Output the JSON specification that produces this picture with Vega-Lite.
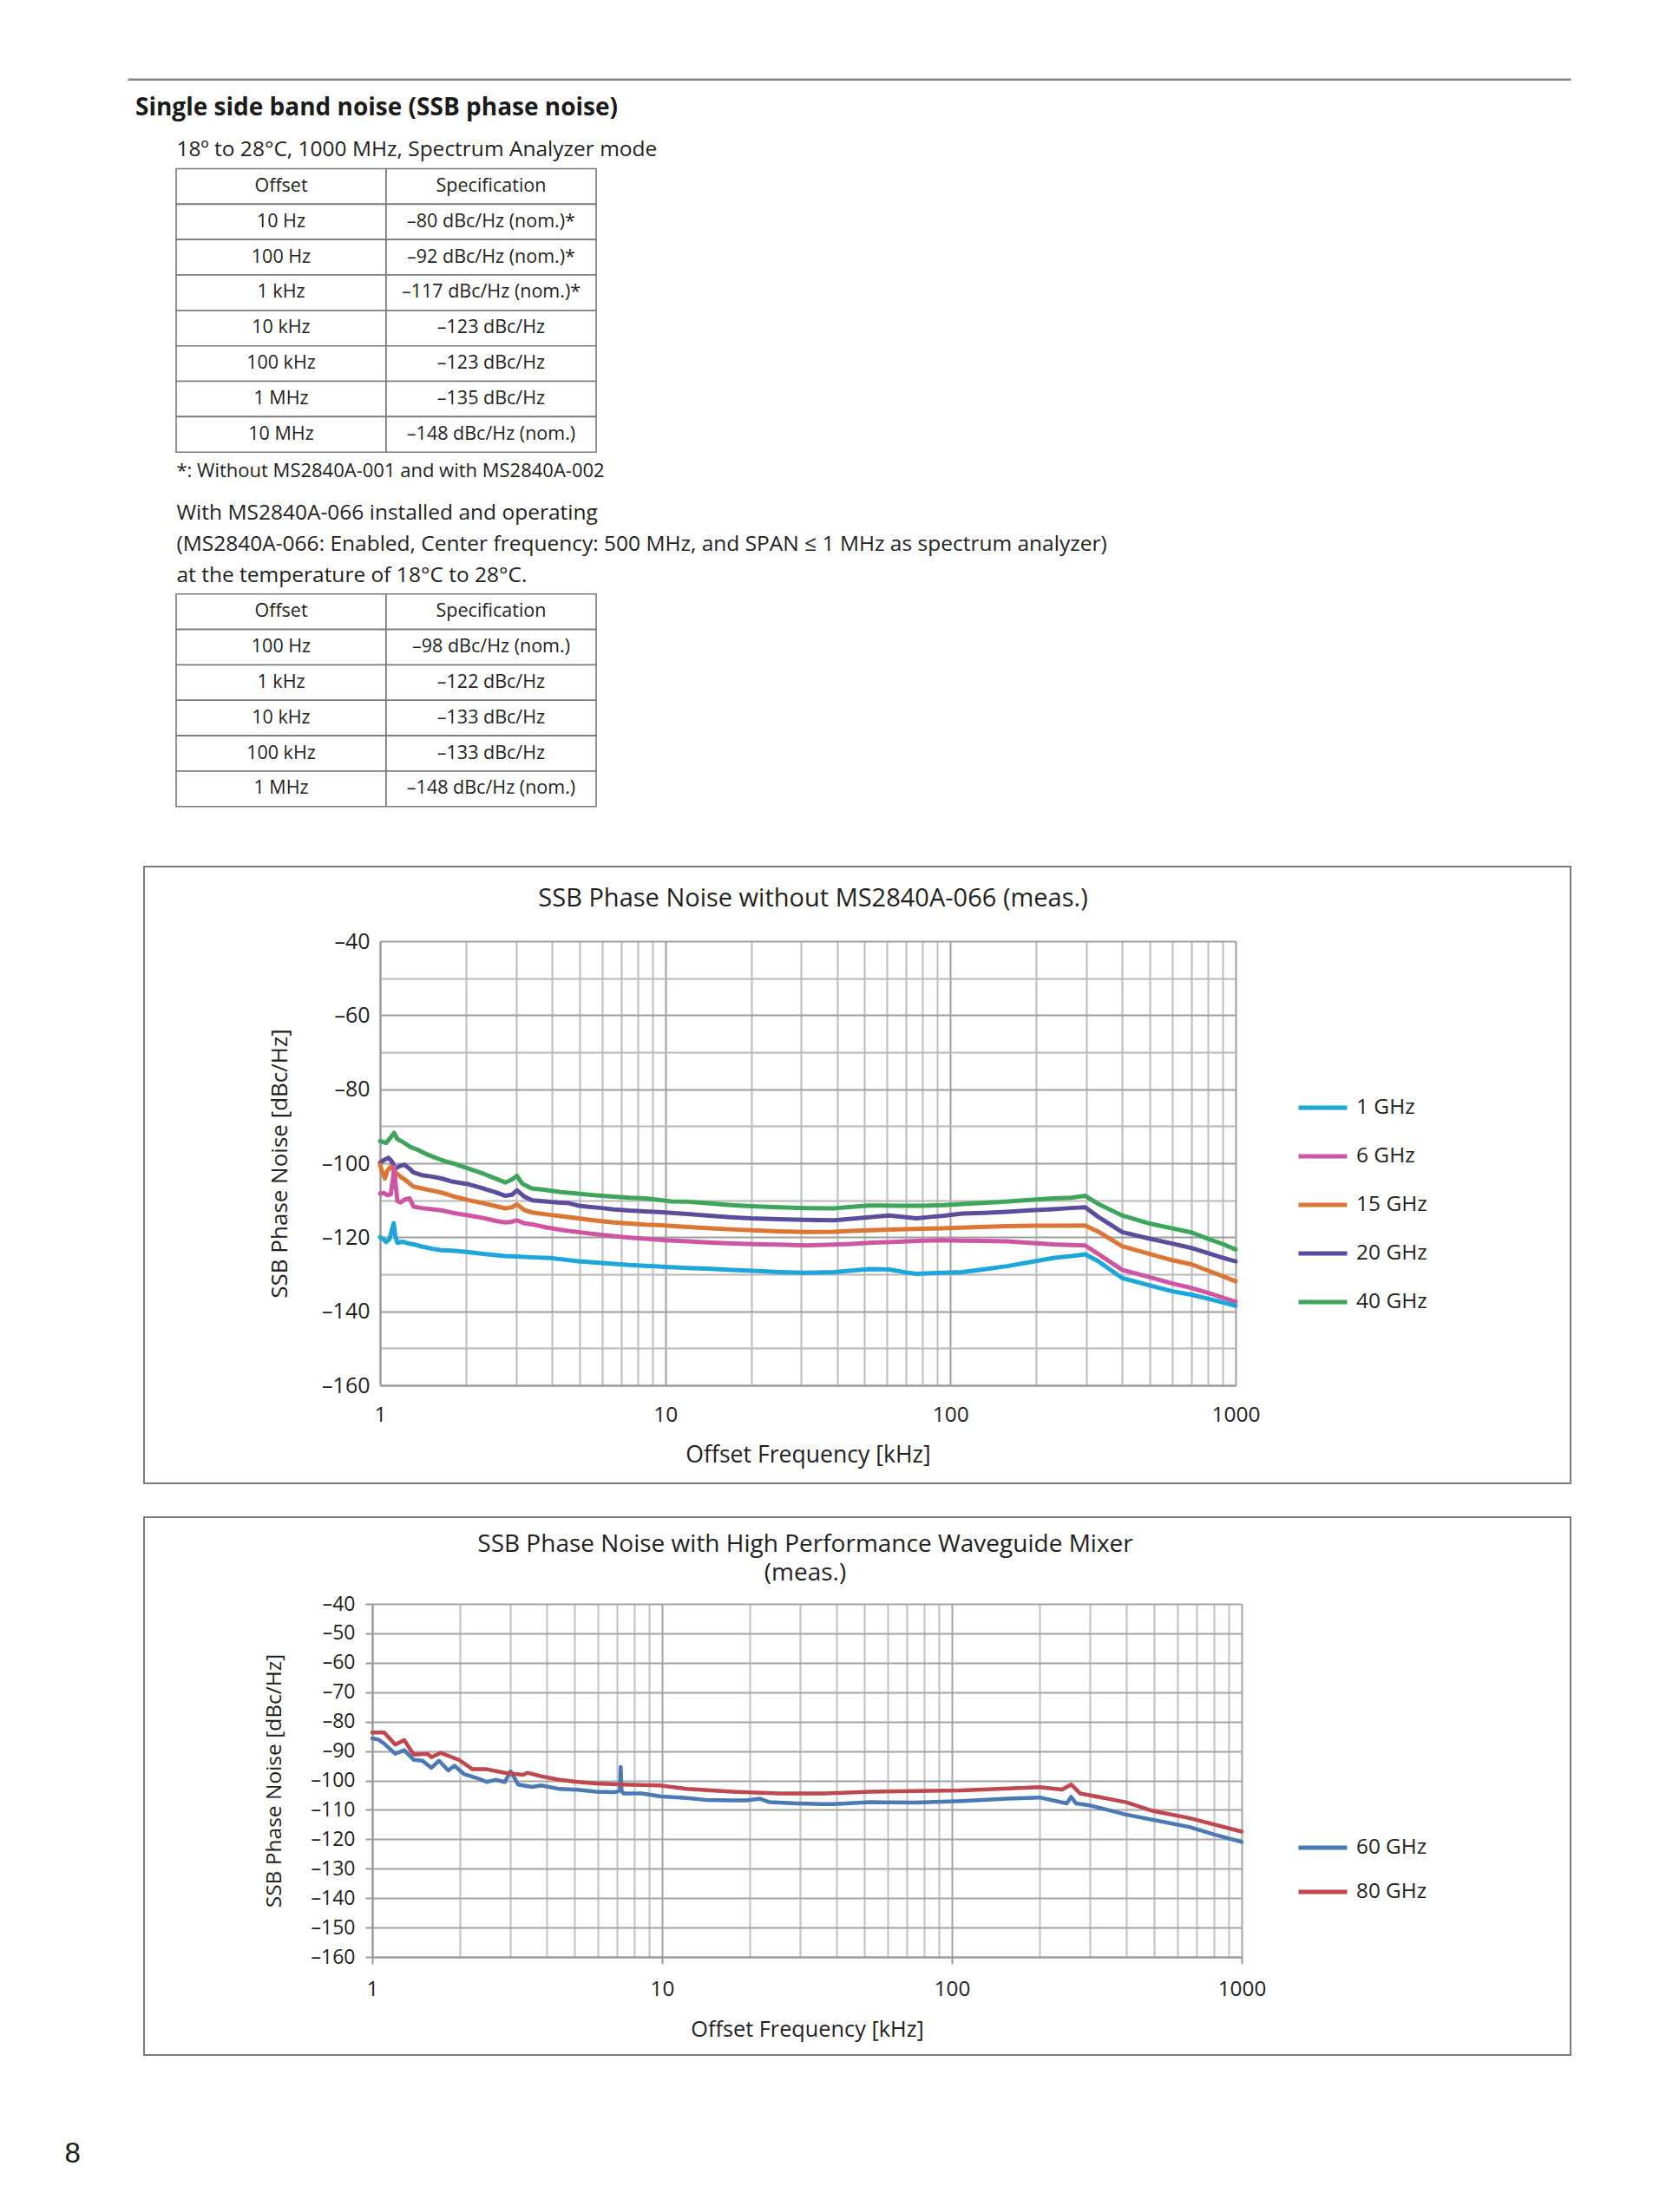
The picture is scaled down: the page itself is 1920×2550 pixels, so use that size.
{
  "$schema": "https://vega.github.io/schema/vega-lite/v6.json",
  "background": "white",
  "padding": {"left": 73, "top": 88, "right": 20, "bottom": 20},
  "autosize": {"type": "pad"},
  "config": {
    "font": "Open Sans",
    "view": {"stroke": null},
    "axis": {"labelFont": "Open Sans", "titleFont": "Open Sans", "labelColor": "#231f20", "titleColor": "#231f20", "titleFontWeight": "normal", "labelFlush": false, "labelOverlap": false},
    "legend": {"labelFont": "Open Sans", "labelColor": "#231f20"},
    "title": {"font": "Open Sans", "color": "#231f20", "fontWeight": "normal"}
  },
  "datasets": {
    "table1": [
      {"row": 0, "col": "Offset", "text": "Offset"}, {"row": 0, "col": "Specification", "text": "Specification"},
      {"row": 1, "col": "Offset", "text": "10 Hz"}, {"row": 1, "col": "Specification", "text": "–80 dBc/Hz (nom.)*"},
      {"row": 2, "col": "Offset", "text": "100 Hz"}, {"row": 2, "col": "Specification", "text": "–92 dBc/Hz (nom.)*"},
      {"row": 3, "col": "Offset", "text": "1 kHz"}, {"row": 3, "col": "Specification", "text": "–117 dBc/Hz (nom.)*"},
      {"row": 4, "col": "Offset", "text": "10 kHz"}, {"row": 4, "col": "Specification", "text": "–123 dBc/Hz"},
      {"row": 5, "col": "Offset", "text": "100 kHz"}, {"row": 5, "col": "Specification", "text": "–123 dBc/Hz"},
      {"row": 6, "col": "Offset", "text": "1 MHz"}, {"row": 6, "col": "Specification", "text": "–135 dBc/Hz"},
      {"row": 7, "col": "Offset", "text": "10 MHz"}, {"row": 7, "col": "Specification", "text": "–148 dBc/Hz (nom.)"}
    ],
    "table2": [
      {"row": 0, "col": "Offset", "text": "Offset"}, {"row": 0, "col": "Specification", "text": "Specification"},
      {"row": 1, "col": "Offset", "text": "100 Hz"}, {"row": 1, "col": "Specification", "text": "–98 dBc/Hz (nom.)"},
      {"row": 2, "col": "Offset", "text": "1 kHz"}, {"row": 2, "col": "Specification", "text": "–122 dBc/Hz"},
      {"row": 3, "col": "Offset", "text": "10 kHz"}, {"row": 3, "col": "Specification", "text": "–133 dBc/Hz"},
      {"row": 4, "col": "Offset", "text": "100 kHz"}, {"row": 4, "col": "Specification", "text": "–133 dBc/Hz"},
      {"row": 5, "col": "Offset", "text": "1 MHz"}, {"row": 5, "col": "Specification", "text": "–148 dBc/Hz (nom.)"}
    ],
    "noise1": [
      {"s": "40 GHz", "f": 1, "n": -94}, {"s": "40 GHz", "f": 1.05, "n": -94.5}, {"s": "40 GHz", "f": 1.09, "n": -93}, {"s": "40 GHz", "f": 1.12, "n": -91.8}, {"s": "40 GHz", "f": 1.15, "n": -93.5}, {"s": "40 GHz", "f": 1.2, "n": -94.2}, {"s": "40 GHz", "f": 1.27, "n": -95.5}, {"s": "40 GHz", "f": 1.35, "n": -96.3}, {"s": "40 GHz", "f": 1.45, "n": -97.5}, {"s": "40 GHz", "f": 1.55, "n": -98.4}, {"s": "40 GHz", "f": 1.7, "n": -99.5}, {"s": "40 GHz", "f": 1.85, "n": -100.3}, {"s": "40 GHz", "f": 2.05, "n": -101.5}, {"s": "40 GHz", "f": 2.3, "n": -102.8}, {"s": "40 GHz", "f": 2.55, "n": -104.2}, {"s": "40 GHz", "f": 2.75, "n": -105.2}, {"s": "40 GHz", "f": 2.9, "n": -104.4}, {"s": "40 GHz", "f": 3.02, "n": -103.4}, {"s": "40 GHz", "f": 3.15, "n": -105.5}, {"s": "40 GHz", "f": 3.4, "n": -106.8}, {"s": "40 GHz", "f": 3.8, "n": -107.2}, {"s": "40 GHz", "f": 4.3, "n": -107.8}, {"s": "40 GHz", "f": 4.95, "n": -108.2}, {"s": "40 GHz", "f": 5.6, "n": -108.6}, {"s": "40 GHz", "f": 6.6, "n": -109}, {"s": "40 GHz", "f": 7.5, "n": -109.3}, {"s": "40 GHz", "f": 8.5, "n": -109.5}, {"s": "40 GHz", "f": 9.5, "n": -109.9}, {"s": "40 GHz", "f": 10.5, "n": -110.3}, {"s": "40 GHz", "f": 12, "n": -110.4}, {"s": "40 GHz", "f": 14, "n": -110.8}, {"s": "40 GHz", "f": 17, "n": -111.3}, {"s": "40 GHz", "f": 20, "n": -111.6}, {"s": "40 GHz", "f": 25, "n": -111.9}, {"s": "40 GHz", "f": 31, "n": -112.1}, {"s": "40 GHz", "f": 39, "n": -112.2}, {"s": "40 GHz", "f": 45, "n": -111.8}, {"s": "40 GHz", "f": 52, "n": -111.4}, {"s": "40 GHz", "f": 65, "n": -111.5}, {"s": "40 GHz", "f": 80, "n": -111.5}, {"s": "40 GHz", "f": 95, "n": -111.3}, {"s": "40 GHz", "f": 110, "n": -111}, {"s": "40 GHz", "f": 130, "n": -110.7}, {"s": "40 GHz", "f": 160, "n": -110.3}, {"s": "40 GHz", "f": 190, "n": -109.9}, {"s": "40 GHz", "f": 230, "n": -109.5}, {"s": "40 GHz", "f": 265, "n": -109.3}, {"s": "40 GHz", "f": 297, "n": -108.8}, {"s": "40 GHz", "f": 330, "n": -111}, {"s": "40 GHz", "f": 400, "n": -114.1}, {"s": "40 GHz", "f": 500, "n": -116.3}, {"s": "40 GHz", "f": 600, "n": -117.6}, {"s": "40 GHz", "f": 700, "n": -118.7}, {"s": "40 GHz", "f": 800, "n": -120.4}, {"s": "40 GHz", "f": 900, "n": -121.8}, {"s": "40 GHz", "f": 1000, "n": -123.3},
      {"s": "20 GHz", "f": 1, "n": -99.8}, {"s": "20 GHz", "f": 1.04, "n": -99}, {"s": "20 GHz", "f": 1.07, "n": -98.5}, {"s": "20 GHz", "f": 1.1, "n": -99.5}, {"s": "20 GHz", "f": 1.13, "n": -101.5}, {"s": "20 GHz", "f": 1.17, "n": -100.8}, {"s": "20 GHz", "f": 1.22, "n": -100.4}, {"s": "20 GHz", "f": 1.27, "n": -101.5}, {"s": "20 GHz", "f": 1.31, "n": -102.5}, {"s": "20 GHz", "f": 1.4, "n": -103.2}, {"s": "20 GHz", "f": 1.52, "n": -103.6}, {"s": "20 GHz", "f": 1.64, "n": -104.1}, {"s": "20 GHz", "f": 1.8, "n": -105}, {"s": "20 GHz", "f": 2.05, "n": -105.7}, {"s": "20 GHz", "f": 2.3, "n": -106.8}, {"s": "20 GHz", "f": 2.55, "n": -107.9}, {"s": "20 GHz", "f": 2.75, "n": -108.8}, {"s": "20 GHz", "f": 2.9, "n": -108.5}, {"s": "20 GHz", "f": 3.02, "n": -107.3}, {"s": "20 GHz", "f": 3.2, "n": -109}, {"s": "20 GHz", "f": 3.42, "n": -110}, {"s": "20 GHz", "f": 3.8, "n": -110.3}, {"s": "20 GHz", "f": 4.2, "n": -110.6}, {"s": "20 GHz", "f": 4.6, "n": -110.8}, {"s": "20 GHz", "f": 5, "n": -111.5}, {"s": "20 GHz", "f": 5.3, "n": -111.7}, {"s": "20 GHz", "f": 6, "n": -112.1}, {"s": "20 GHz", "f": 6.6, "n": -112.5}, {"s": "20 GHz", "f": 7.5, "n": -112.8}, {"s": "20 GHz", "f": 8.5, "n": -113}, {"s": "20 GHz", "f": 10, "n": -113.3}, {"s": "20 GHz", "f": 12, "n": -113.7}, {"s": "20 GHz", "f": 14, "n": -114.1}, {"s": "20 GHz", "f": 17, "n": -114.6}, {"s": "20 GHz", "f": 20, "n": -114.9}, {"s": "20 GHz", "f": 25, "n": -115.1}, {"s": "20 GHz", "f": 31, "n": -115.3}, {"s": "20 GHz", "f": 39, "n": -115.4}, {"s": "20 GHz", "f": 45, "n": -115}, {"s": "20 GHz", "f": 52, "n": -114.6}, {"s": "20 GHz", "f": 61, "n": -114.1}, {"s": "20 GHz", "f": 70, "n": -114.6}, {"s": "20 GHz", "f": 76, "n": -114.9}, {"s": "20 GHz", "f": 85, "n": -114.5}, {"s": "20 GHz", "f": 95, "n": -114.2}, {"s": "20 GHz", "f": 110, "n": -113.6}, {"s": "20 GHz", "f": 130, "n": -113.4}, {"s": "20 GHz", "f": 158, "n": -113.1}, {"s": "20 GHz", "f": 190, "n": -112.7}, {"s": "20 GHz", "f": 229, "n": -112.4}, {"s": "20 GHz", "f": 265, "n": -112.1}, {"s": "20 GHz", "f": 297, "n": -111.9}, {"s": "20 GHz", "f": 330, "n": -114.5}, {"s": "20 GHz", "f": 400, "n": -118.6}, {"s": "20 GHz", "f": 500, "n": -120.4}, {"s": "20 GHz", "f": 600, "n": -121.7}, {"s": "20 GHz", "f": 700, "n": -122.9}, {"s": "20 GHz", "f": 800, "n": -124.3}, {"s": "20 GHz", "f": 900, "n": -125.5}, {"s": "20 GHz", "f": 1000, "n": -126.5},
      {"s": "15 GHz", "f": 1, "n": -100.4}, {"s": "15 GHz", "f": 1.02, "n": -102.5}, {"s": "15 GHz", "f": 1.04, "n": -104.1}, {"s": "15 GHz", "f": 1.06, "n": -102}, {"s": "15 GHz", "f": 1.09, "n": -100.9}, {"s": "15 GHz", "f": 1.12, "n": -102.2}, {"s": "15 GHz", "f": 1.18, "n": -103.6}, {"s": "15 GHz", "f": 1.24, "n": -104.8}, {"s": "15 GHz", "f": 1.31, "n": -106.3}, {"s": "15 GHz", "f": 1.4, "n": -106.8}, {"s": "15 GHz", "f": 1.5, "n": -107.3}, {"s": "15 GHz", "f": 1.64, "n": -107.9}, {"s": "15 GHz", "f": 1.8, "n": -108.9}, {"s": "15 GHz", "f": 2.05, "n": -110}, {"s": "15 GHz", "f": 2.3, "n": -110.8}, {"s": "15 GHz", "f": 2.55, "n": -111.6}, {"s": "15 GHz", "f": 2.75, "n": -112.2}, {"s": "15 GHz", "f": 2.9, "n": -111.9}, {"s": "15 GHz", "f": 3.02, "n": -111.1}, {"s": "15 GHz", "f": 3.2, "n": -112.6}, {"s": "15 GHz", "f": 3.42, "n": -113.3}, {"s": "15 GHz", "f": 3.8, "n": -113.8}, {"s": "15 GHz", "f": 4.3, "n": -114.3}, {"s": "15 GHz", "f": 4.95, "n": -114.9}, {"s": "15 GHz", "f": 5.6, "n": -115.4}, {"s": "15 GHz", "f": 6.6, "n": -116}, {"s": "15 GHz", "f": 7.5, "n": -116.3}, {"s": "15 GHz", "f": 8.5, "n": -116.6}, {"s": "15 GHz", "f": 10, "n": -116.8}, {"s": "15 GHz", "f": 12, "n": -117.2}, {"s": "15 GHz", "f": 14, "n": -117.5}, {"s": "15 GHz", "f": 17.3, "n": -117.9}, {"s": "15 GHz", "f": 22, "n": -118.2}, {"s": "15 GHz", "f": 25, "n": -118.4}, {"s": "15 GHz", "f": 31, "n": -118.6}, {"s": "15 GHz", "f": 39, "n": -118.5}, {"s": "15 GHz", "f": 45, "n": -118.3}, {"s": "15 GHz", "f": 52, "n": -118.1}, {"s": "15 GHz", "f": 65, "n": -117.9}, {"s": "15 GHz", "f": 80, "n": -117.7}, {"s": "15 GHz", "f": 94, "n": -117.6}, {"s": "15 GHz", "f": 120, "n": -117.3}, {"s": "15 GHz", "f": 158, "n": -117}, {"s": "15 GHz", "f": 200, "n": -116.9}, {"s": "15 GHz", "f": 250, "n": -116.9}, {"s": "15 GHz", "f": 297, "n": -116.8}, {"s": "15 GHz", "f": 330, "n": -118.5}, {"s": "15 GHz", "f": 400, "n": -122.4}, {"s": "15 GHz", "f": 500, "n": -124.5}, {"s": "15 GHz", "f": 600, "n": -126.2}, {"s": "15 GHz", "f": 700, "n": -127.3}, {"s": "15 GHz", "f": 800, "n": -129}, {"s": "15 GHz", "f": 900, "n": -130.5}, {"s": "15 GHz", "f": 1000, "n": -131.9},
      {"s": "6 GHz", "f": 1, "n": -108.2}, {"s": "6 GHz", "f": 1.03, "n": -108}, {"s": "6 GHz", "f": 1.06, "n": -108.6}, {"s": "6 GHz", "f": 1.09, "n": -108.4}, {"s": "6 GHz", "f": 1.11, "n": -104}, {"s": "6 GHz", "f": 1.12, "n": -101}, {"s": "6 GHz", "f": 1.135, "n": -106}, {"s": "6 GHz", "f": 1.15, "n": -110.2}, {"s": "6 GHz", "f": 1.18, "n": -110.6}, {"s": "6 GHz", "f": 1.22, "n": -109.8}, {"s": "6 GHz", "f": 1.27, "n": -109.5}, {"s": "6 GHz", "f": 1.31, "n": -111.7}, {"s": "6 GHz", "f": 1.4, "n": -112.1}, {"s": "6 GHz", "f": 1.52, "n": -112.4}, {"s": "6 GHz", "f": 1.64, "n": -112.7}, {"s": "6 GHz", "f": 1.8, "n": -113.4}, {"s": "6 GHz", "f": 2.05, "n": -114.1}, {"s": "6 GHz", "f": 2.3, "n": -114.8}, {"s": "6 GHz", "f": 2.55, "n": -115.6}, {"s": "6 GHz", "f": 2.75, "n": -116}, {"s": "6 GHz", "f": 2.9, "n": -115.8}, {"s": "6 GHz", "f": 3.02, "n": -115.4}, {"s": "6 GHz", "f": 3.2, "n": -116.2}, {"s": "6 GHz", "f": 3.42, "n": -116.5}, {"s": "6 GHz", "f": 3.8, "n": -117.3}, {"s": "6 GHz", "f": 4.3, "n": -118}, {"s": "6 GHz", "f": 4.95, "n": -118.6}, {"s": "6 GHz", "f": 5.6, "n": -119.1}, {"s": "6 GHz", "f": 6.6, "n": -119.7}, {"s": "6 GHz", "f": 7.5, "n": -120.1}, {"s": "6 GHz", "f": 8.5, "n": -120.4}, {"s": "6 GHz", "f": 10, "n": -120.8}, {"s": "6 GHz", "f": 12, "n": -121.1}, {"s": "6 GHz", "f": 14, "n": -121.4}, {"s": "6 GHz", "f": 17.3, "n": -121.7}, {"s": "6 GHz", "f": 22, "n": -121.9}, {"s": "6 GHz", "f": 25, "n": -122}, {"s": "6 GHz", "f": 31, "n": -122.2}, {"s": "6 GHz", "f": 39, "n": -122}, {"s": "6 GHz", "f": 45, "n": -121.8}, {"s": "6 GHz", "f": 52, "n": -121.5}, {"s": "6 GHz", "f": 65, "n": -121.2}, {"s": "6 GHz", "f": 80, "n": -120.9}, {"s": "6 GHz", "f": 94, "n": -120.8}, {"s": "6 GHz", "f": 110, "n": -120.9}, {"s": "6 GHz", "f": 130, "n": -121}, {"s": "6 GHz", "f": 158, "n": -121.1}, {"s": "6 GHz", "f": 190, "n": -121.5}, {"s": "6 GHz", "f": 229, "n": -121.9}, {"s": "6 GHz", "f": 265, "n": -122.1}, {"s": "6 GHz", "f": 297, "n": -122.2}, {"s": "6 GHz", "f": 330, "n": -124.5}, {"s": "6 GHz", "f": 400, "n": -128.8}, {"s": "6 GHz", "f": 500, "n": -130.8}, {"s": "6 GHz", "f": 600, "n": -132.5}, {"s": "6 GHz", "f": 700, "n": -133.7}, {"s": "6 GHz", "f": 800, "n": -135}, {"s": "6 GHz", "f": 900, "n": -136.3}, {"s": "6 GHz", "f": 1000, "n": -137.4},
      {"s": "1 GHz", "f": 1, "n": -120}, {"s": "1 GHz", "f": 1.03, "n": -120.6}, {"s": "1 GHz", "f": 1.05, "n": -121.3}, {"s": "1 GHz", "f": 1.08, "n": -120.5}, {"s": "1 GHz", "f": 1.1, "n": -118}, {"s": "1 GHz", "f": 1.117, "n": -116.2}, {"s": "1 GHz", "f": 1.13, "n": -119.5}, {"s": "1 GHz", "f": 1.15, "n": -121.5}, {"s": "1 GHz", "f": 1.2, "n": -121.2}, {"s": "1 GHz", "f": 1.26, "n": -121.7}, {"s": "1 GHz", "f": 1.31, "n": -121.9}, {"s": "1 GHz", "f": 1.4, "n": -122.5}, {"s": "1 GHz", "f": 1.52, "n": -123.1}, {"s": "1 GHz", "f": 1.64, "n": -123.5}, {"s": "1 GHz", "f": 1.8, "n": -123.6}, {"s": "1 GHz", "f": 2.05, "n": -124}, {"s": "1 GHz", "f": 2.3, "n": -124.5}, {"s": "1 GHz", "f": 2.75, "n": -125.1}, {"s": "1 GHz", "f": 3.02, "n": -125.2}, {"s": "1 GHz", "f": 3.4, "n": -125.4}, {"s": "1 GHz", "f": 3.97, "n": -125.6}, {"s": "1 GHz", "f": 4.5, "n": -126.1}, {"s": "1 GHz", "f": 4.95, "n": -126.5}, {"s": "1 GHz", "f": 5.6, "n": -126.8}, {"s": "1 GHz", "f": 6.6, "n": -127.2}, {"s": "1 GHz", "f": 7.5, "n": -127.5}, {"s": "1 GHz", "f": 8.5, "n": -127.7}, {"s": "1 GHz", "f": 10, "n": -128}, {"s": "1 GHz", "f": 12, "n": -128.3}, {"s": "1 GHz", "f": 14, "n": -128.5}, {"s": "1 GHz", "f": 17.3, "n": -128.8}, {"s": "1 GHz", "f": 22, "n": -129.2}, {"s": "1 GHz", "f": 25, "n": -129.4}, {"s": "1 GHz", "f": 31, "n": -129.6}, {"s": "1 GHz", "f": 39, "n": -129.4}, {"s": "1 GHz", "f": 45, "n": -129}, {"s": "1 GHz", "f": 52, "n": -128.6}, {"s": "1 GHz", "f": 61, "n": -128.7}, {"s": "1 GHz", "f": 70, "n": -129.5}, {"s": "1 GHz", "f": 76, "n": -129.9}, {"s": "1 GHz", "f": 85, "n": -129.7}, {"s": "1 GHz", "f": 94, "n": -129.6}, {"s": "1 GHz", "f": 110, "n": -129.4}, {"s": "1 GHz", "f": 130, "n": -128.7}, {"s": "1 GHz", "f": 158, "n": -127.8}, {"s": "1 GHz", "f": 190, "n": -126.7}, {"s": "1 GHz", "f": 229, "n": -125.6}, {"s": "1 GHz", "f": 265, "n": -125.1}, {"s": "1 GHz", "f": 297, "n": -124.6}, {"s": "1 GHz", "f": 330, "n": -126.5}, {"s": "1 GHz", "f": 400, "n": -131}, {"s": "1 GHz", "f": 500, "n": -133}, {"s": "1 GHz", "f": 600, "n": -134.6}, {"s": "1 GHz", "f": 700, "n": -135.5}, {"s": "1 GHz", "f": 800, "n": -136.6}, {"s": "1 GHz", "f": 900, "n": -137.6}, {"s": "1 GHz", "f": 1000, "n": -138.5}
    ],
    "noise2": [
      {"s": "60 GHz", "f": 1, "n": -85.7}, {"s": "60 GHz", "f": 1.05, "n": -86.1}, {"s": "60 GHz", "f": 1.1, "n": -87.5}, {"s": "60 GHz", "f": 1.2, "n": -90.9}, {"s": "60 GHz", "f": 1.29, "n": -89.7}, {"s": "60 GHz", "f": 1.39, "n": -93}, {"s": "60 GHz", "f": 1.49, "n": -93.3}, {"s": "60 GHz", "f": 1.6, "n": -95.7}, {"s": "60 GHz", "f": 1.7, "n": -93.3}, {"s": "60 GHz", "f": 1.83, "n": -96.6}, {"s": "60 GHz", "f": 1.92, "n": -95}, {"s": "60 GHz", "f": 2.07, "n": -97.8}, {"s": "60 GHz", "f": 2.3, "n": -99.2}, {"s": "60 GHz", "f": 2.48, "n": -100.5}, {"s": "60 GHz", "f": 2.66, "n": -99.8}, {"s": "60 GHz", "f": 2.87, "n": -100.5}, {"s": "60 GHz", "f": 3.0, "n": -96.9}, {"s": "60 GHz", "f": 3.19, "n": -101.4}, {"s": "60 GHz", "f": 3.56, "n": -102.2}, {"s": "60 GHz", "f": 3.83, "n": -101.7}, {"s": "60 GHz", "f": 4.43, "n": -102.9}, {"s": "60 GHz", "f": 5.12, "n": -103.2}, {"s": "60 GHz", "f": 5.92, "n": -103.8}, {"s": "60 GHz", "f": 6.84, "n": -104}, {"s": "60 GHz", "f": 7.15, "n": -103.5}, {"s": "60 GHz", "f": 7.2, "n": -95.4}, {"s": "60 GHz", "f": 7.25, "n": -103.5}, {"s": "60 GHz", "f": 7.36, "n": -104.4}, {"s": "60 GHz", "f": 8.5, "n": -104.4}, {"s": "60 GHz", "f": 9.83, "n": -105.4}, {"s": "60 GHz", "f": 10.6, "n": -105.6}, {"s": "60 GHz", "f": 12.2, "n": -106}, {"s": "60 GHz", "f": 14.1, "n": -106.6}, {"s": "60 GHz", "f": 17.5, "n": -106.8}, {"s": "60 GHz", "f": 19.6, "n": -106.8}, {"s": "60 GHz", "f": 21.8, "n": -106.2}, {"s": "60 GHz", "f": 23.5, "n": -107.4}, {"s": "60 GHz", "f": 29.2, "n": -107.8}, {"s": "60 GHz", "f": 36, "n": -108}, {"s": "60 GHz", "f": 39.1, "n": -108}, {"s": "60 GHz", "f": 52.4, "n": -107.4}, {"s": "60 GHz", "f": 75.2, "n": -107.5}, {"s": "60 GHz", "f": 108, "n": -107}, {"s": "60 GHz", "f": 155, "n": -106.2}, {"s": "60 GHz", "f": 201, "n": -105.8}, {"s": "60 GHz", "f": 249, "n": -107.8}, {"s": "60 GHz", "f": 258, "n": -105.6}, {"s": "60 GHz", "f": 268, "n": -107.8}, {"s": "60 GHz", "f": 300, "n": -108.5}, {"s": "60 GHz", "f": 399, "n": -111.6}, {"s": "60 GHz", "f": 500, "n": -113.5}, {"s": "60 GHz", "f": 660, "n": -115.8}, {"s": "60 GHz", "f": 800, "n": -118.3}, {"s": "60 GHz", "f": 1000, "n": -120.9},
      {"s": "80 GHz", "f": 1, "n": -83.7}, {"s": "80 GHz", "f": 1.1, "n": -83.7}, {"s": "80 GHz", "f": 1.2, "n": -87.8}, {"s": "80 GHz", "f": 1.29, "n": -86.3}, {"s": "80 GHz", "f": 1.39, "n": -91.2}, {"s": "80 GHz", "f": 1.55, "n": -90.9}, {"s": "80 GHz", "f": 1.6, "n": -92.1}, {"s": "80 GHz", "f": 1.72, "n": -90.6}, {"s": "80 GHz", "f": 1.99, "n": -93}, {"s": "80 GHz", "f": 2.22, "n": -96.2}, {"s": "80 GHz", "f": 2.48, "n": -96.2}, {"s": "80 GHz", "f": 2.87, "n": -97.4}, {"s": "80 GHz", "f": 3.31, "n": -98.1}, {"s": "80 GHz", "f": 3.43, "n": -97.4}, {"s": "80 GHz", "f": 3.83, "n": -98.6}, {"s": "80 GHz", "f": 4.43, "n": -99.8}, {"s": "80 GHz", "f": 5.12, "n": -100.5}, {"s": "80 GHz", "f": 5.92, "n": -101}, {"s": "80 GHz", "f": 7.36, "n": -101.4}, {"s": "80 GHz", "f": 9.83, "n": -101.7}, {"s": "80 GHz", "f": 12.2, "n": -102.9}, {"s": "80 GHz", "f": 17.5, "n": -103.8}, {"s": "80 GHz", "f": 25.3, "n": -104.4}, {"s": "80 GHz", "f": 36.3, "n": -104.4}, {"s": "80 GHz", "f": 52.4, "n": -103.8}, {"s": "80 GHz", "f": 108, "n": -103.4}, {"s": "80 GHz", "f": 201, "n": -102.3}, {"s": "80 GHz", "f": 240, "n": -103.1}, {"s": "80 GHz", "f": 258, "n": -101.4}, {"s": "80 GHz", "f": 277, "n": -104.4}, {"s": "80 GHz", "f": 399, "n": -107.4}, {"s": "80 GHz", "f": 495, "n": -110.4}, {"s": "80 GHz", "f": 660, "n": -112.8}, {"s": "80 GHz", "f": 1000, "n": -117.4}
    ]
  },
  "bounds": "flush",
  "spacing": 906,
  "vconcat": [
    {
      "width": 1644,
      "height": 2.5,
      "view": {"fill": null, "stroke": null},
      "title": {"text": "Single side band noise (SSB phase noise)", "orient": "top", "anchor": "start", "frame": "group", "offset": -72, "dx": -10, "baseline": "alphabetic", "fontSize": 28, "fontWeight": "bold", "color": "#1a1a1a"},
      "layer": [
        {
          "data": {"name": "table1"},
          "mark": {"type": "point", "opacity": 0},
          "encoding": {
            "x": {"field": "col", "type": "nominal", "scale": {"type": "band", "domain": ["Offset", "Specification"], "range": [-19, 1644], "paddingInner": 0, "paddingOuter": 0},
                  "axis": {"orient": "top", "offset": -1.2, "labels": false, "ticks": false, "grid": false, "domain": true, "domainColor": "#858585", "domainWidth": 2.6, "title": null}}
          }
        },
        {
          "data": {"name": "table1"},
          "mark": {"type": "rect", "fill": "white", "stroke": "#7a7a7a", "strokeWidth": 1.6},
          "encoding": {
            "x": {"field": "col", "type": "nominal", "scale": {"type": "band", "domain": ["Offset", "Specification"], "range": [37, 521], "paddingInner": 0, "paddingOuter": 0},
                  "axis": {"orient": "top", "labels": false, "ticks": false, "domain": false, "grid": false, "title": "18º to 28°C, 1000 MHz, Spectrum Analyzer mode", "titleX": 37, "titleY": 89, "titleAlign": "left", "titleAnchor": "start", "titleBaseline": "alphabetic", "titleFontSize": 24.5, "titleAngle": 0}},
            "y": {"field": "row", "type": "ordinal", "scale": {"type": "band", "range": [104.5, 431.2], "paddingInner": 0, "paddingOuter": 0}, "axis": null}
          }
        },
        {
          "data": {"name": "table1"},
          "mark": {"type": "text", "fontSize": 21.5, "color": "#231f20", "align": "center", "baseline": "middle"},
          "encoding": {
            "x": {"field": "col", "type": "nominal", "scale": {"type": "band", "domain": ["Offset", "Specification"], "range": [37, 521], "paddingInner": 0, "paddingOuter": 0},
                  "axis": {"orient": "bottom", "labels": false, "ticks": false, "domain": false, "grid": false, "title": "*: Without MS2840A-001 and with MS2840A-002", "titleX": 37, "titleY": 456.8, "titleAlign": "left", "titleAnchor": "start", "titleBaseline": "alphabetic", "titleFontSize": 22, "titleAngle": 0}},
            "y": {"field": "row", "type": "ordinal", "scale": {"type": "band", "range": [104.5, 431.2], "paddingInner": 0, "paddingOuter": 0}, "axis": null},
            "text": {"field": "text"}
          }
        },
        {
          "data": {"name": "table2"},
          "mark": {"type": "rect", "fill": "white", "stroke": "#7a7a7a", "strokeWidth": 1.6},
          "encoding": {
            "x": {"field": "col", "type": "nominal", "scale": {"type": "band", "domain": ["Offset", "Specification"], "range": [37, 521], "paddingInner": 0, "paddingOuter": 0},
                  "axis": {"orient": "top", "labels": false, "ticks": false, "domain": false, "grid": false, "title": ["With MS2840A-066 installed and operating", "(MS2840A-066: Enabled, Center frequency: 500 MHz, and SPAN ≤ 1 MHz as spectrum analyzer)", "at the temperature of 18°C to 28°C."], "titleX": 37, "titleY": 508.5, "titleAlign": "left", "titleAnchor": "start", "titleBaseline": "alphabetic", "titleFontSize": 24.5, "titleLineHeight": 36, "titleAngle": 0}},
            "y": {"field": "row", "type": "ordinal", "scale": {"type": "band", "range": [594.8, 839.8], "paddingInner": 0, "paddingOuter": 0}, "axis": null}
          }
        },
        {
          "data": {"name": "table2"},
          "mark": {"type": "text", "fontSize": 21.5, "color": "#231f20", "align": "center", "baseline": "middle"},
          "encoding": {
            "x": {"field": "col", "type": "nominal", "scale": {"type": "band", "domain": ["Offset", "Specification"], "range": [37, 521], "paddingInner": 0, "paddingOuter": 0}, "axis": null},
            "y": {"field": "row", "type": "ordinal", "scale": {"type": "band", "range": [594.8, 839.8], "paddingInner": 0, "paddingOuter": 0}, "axis": null},
            "text": {"field": "text"}
          }
        }
      ],
      "resolve": {"scale": {"x": "independent", "y": "independent"}, "axis": {"x": "independent"}}
    },
    {
      "bounds": "flush",
      "spacing": 39,
      "resolve": {"scale": {"color": "independent"}, "legend": {"color": "independent"}},
      "vconcat": [
        {
          "width": 1644,
          "height": 711,
          "view": {"stroke": "#7b7b7b", "strokeWidth": 2, "fill": "white"},
          "title": {"text": "SSB Phase Noise without MS2840A-066 (meas.)", "orient": "top", "anchor": "middle", "frame": "group", "offset": -75, "dx": -51, "baseline": "alphabetic", "fontSize": 29},
          "data": {"name": "noise1"},
          "layer": [
            {
              "mark": {"type": "point", "opacity": 0},
              "encoding": {
                "x": {"field": "f", "type": "quantitative",
                      "axis": {"orient": "top", "values": [1, 2, 3, 4, 5, 6, 7, 8, 9, 10, 20, 30, 40, 50, 60, 70, 80, 90, 100, 200, 300, 400, 500, 600, 700, 800, 900, 1000], "grid": true, "gridColor": {"condition": {"test": "datum.value == 1 || datum.value == 10 || datum.value == 100 || datum.value == 1000", "value": "#9e9e9e"}, "value": "#bcbcbc"}, "gridWidth": 2, "labels": false, "ticks": false, "domain": false, "title": null}},
                "y": {"field": "n", "type": "quantitative"}
              }
            },
            {
              "mark": {"type": "line", "strokeWidth": 5, "strokeCap": "round", "strokeJoin": "round"},
              "encoding": {
                "x": {"field": "f", "type": "quantitative", "scale": {"type": "log", "domain": [1, 1000], "range": [272, 1258]},
                      "axis": {"orient": "bottom", "offset": -113, "values": [1, 10, 100, 1000], "format": "d", "grid": false, "ticks": false, "domain": true, "domainColor": "#9a9a9a", "domainWidth": 2, "labelFontSize": 24.5, "labelPadding": 22, "title": "Offset Frequency [kHz]", "titleFontSize": 26.6, "titlePadding": 22}},
                "y": {"field": "n", "type": "quantitative", "scale": {"domain": [-160, -40], "range": [598, 86], "zero": false, "nice": false},
                      "axis": {"orient": "left", "offset": -272, "values": [-160, -150, -140, -130, -120, -110, -100, -90, -80, -70, -60, -50, -40], "labelExpr": "datum.value % 20 == 0 ? (datum.value < 0 ? '–' + (-datum.value) : '' + datum.value) : ''", "grid": true, "gridColor": {"condition": {"test": "datum.value % 20 == 0", "value": "#9e9e9e"}, "value": "#b8b8b8"}, "gridWidth": 2, "ticks": false, "domain": true, "domainColor": "#9a9a9a", "domainWidth": 2, "labelFontSize": 25, "labelPadding": 12, "title": "SSB Phase Noise [dBc/Hz]", "titleFontSize": 26, "titlePadding": 35}},
                "color": {"field": "s", "type": "nominal", "scale": {"domain": ["1 GHz", "6 GHz", "15 GHz", "20 GHz", "40 GHz"], "range": ["#1ba6dc", "#cd55a2", "#dd7533", "#5b4d9e", "#3da65c"]},
                          "legend": {"orient": "none", "legendX": 1328, "legendY": 247.5, "title": null, "symbolType": "stroke", "symbolSize": 3136, "symbolStrokeWidth": 5, "labelFontSize": 24.5, "labelOffset": 8, "rowPadding": 14, "padding": 0, "labelLimit": 400}}
              }
            }
          ],
          "resolve": {"axis": {"x": "independent"}}
        },
        {
          "width": 1644,
          "height": 620,
          "view": {"stroke": "#7b7b7b", "strokeWidth": 2, "fill": "white"},
          "title": {"text": ["SSB Phase Noise with High Performance Waveguide Mixer", "(meas.)"], "orient": "top", "anchor": "middle", "frame": "group", "offset": -101, "dx": -60, "baseline": "alphabetic", "fontSize": 28, "lineHeight": 33},
          "data": {"name": "noise2"},
          "layer": [
            {
              "mark": {"type": "point", "opacity": 0},
              "encoding": {
                "x": {"field": "f", "type": "quantitative",
                      "axis": {"orient": "top", "values": [1, 2, 3, 4, 5, 6, 7, 8, 9, 10, 20, 30, 40, 50, 60, 70, 80, 90, 100, 200, 300, 400, 500, 600, 700, 800, 900, 1000], "grid": true, "gridColor": {"condition": {"test": "datum.value == 1 || datum.value == 10 || datum.value == 100 || datum.value == 1000", "value": "#a4a4a4"}, "value": "#c2c2c2"}, "gridWidth": 2, "labels": false, "ticks": false, "domain": false,
                               "title": "8", "titleX": -92, "titleY": 743.7, "titleAlign": "left", "titleAnchor": "start", "titleBaseline": "alphabetic", "titleFont": "Liberation Sans", "titleFontSize": 33, "titleAngle": 0, "titleColor": "#1a1a1a"}},
                "y": {"field": "n", "type": "quantitative"}
              }
            },
            {
              "mark": {"type": "line", "strokeWidth": 4.5, "strokeCap": "round", "strokeJoin": "round"},
              "encoding": {
                "x": {"field": "f", "type": "quantitative", "scale": {"type": "log", "domain": [1, 1000], "range": [263, 1265]},
                      "axis": {"orient": "bottom", "offset": -113, "values": [1, 10, 100, 1000], "format": "d", "grid": false, "ticks": true, "tickSize": 8, "tickWidth": 2, "tickColor": "#9a9a9a", "domain": true, "domainColor": "#9a9a9a", "domainWidth": 2, "labelFontSize": 24.3, "labelPadding": 17, "title": "Offset Frequency [kHz]", "titleFontSize": 25.3, "titlePadding": 22}},
                "y": {"field": "n", "type": "quantitative", "scale": {"domain": [-160, -40], "range": [507, 100], "zero": false, "nice": false},
                      "axis": {"orient": "left", "offset": -263, "values": [-160, -150, -140, -130, -120, -110, -100, -90, -80, -70, -60, -50, -40], "labelExpr": "datum.value < 0 ? '–' + (-datum.value) : '' + datum.value", "grid": true, "gridColor": "#a4a4a4", "gridWidth": 2, "ticks": true, "tickSize": 8, "tickWidth": 2, "tickColor": "#9a9a9a", "domain": true, "domainColor": "#9a9a9a", "domainWidth": 2, "labelFontSize": 23, "labelPadding": 12, "title": "SSB Phase Noise [dBc/Hz]", "titleFontSize": 24.5, "titlePadding": 30}},
                "color": {"field": "s", "type": "nominal", "scale": {"domain": ["60 GHz", "80 GHz"], "range": ["#4a79b6", "#bf474d"]},
                          "legend": {"orient": "none", "legendX": 1328, "legendY": 350.5, "title": null, "symbolType": "stroke", "symbolSize": 3136, "symbolStrokeWidth": 5, "labelFontSize": 24.3, "labelOffset": 8, "rowPadding": 8, "padding": 0, "labelLimit": 400}}
              }
            }
          ],
          "resolve": {"axis": {"x": "independent"}}
        }
      ]
    }
  ]
}
